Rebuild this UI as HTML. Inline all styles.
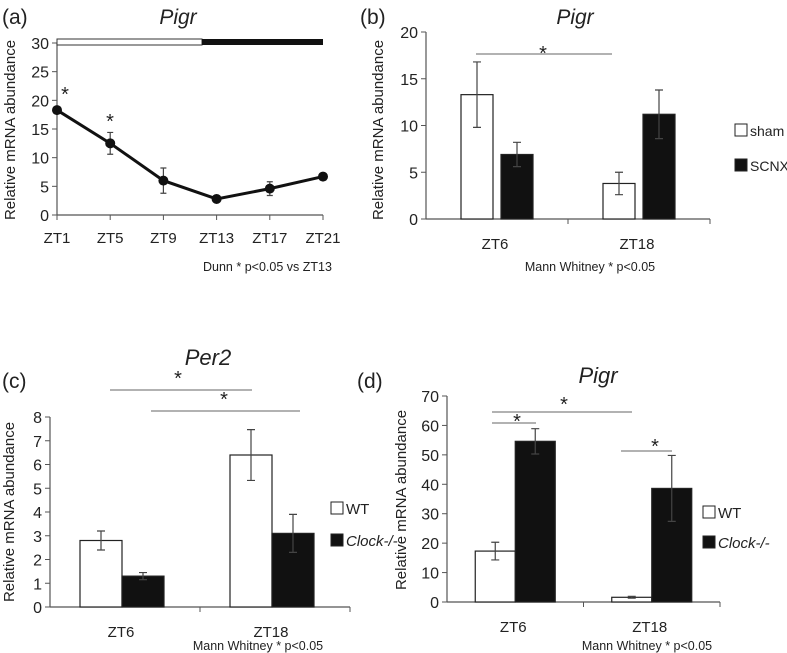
<!DOCTYPE html>
<html><head><meta charset="utf-8"><style>
body{margin:0;background:#fff}
svg{display:block;font-family:"Liberation Sans",Arial,sans-serif}
text{fill:#222}
</style></head><body>
<svg id="fig" width="787" height="653" viewBox="0 0 787 653" xmlns="http://www.w3.org/2000/svg"></svg>
<script>
// Panel a
const aCats=["ZT1","ZT5","ZT9","ZT13","ZT17","ZT21"];
const aVals=[18.3,12.5,6.0,2.8,4.6,6.7];
const aErr=[0.3,1.9,2.2,0.3,1.2,0.6];
const aTicks=[0,5,10,15,20,25,30];
// Panel b
const bCats=["ZT6","ZT18"];
const bSham=[13.3,3.8];
const bShamErr=[3.5,1.2];
const bScnx=[6.9,11.2];
const bScnxErr=[1.3,2.6];
const bTicks=[0,5,10,15,20];
// Panel c
const cCats=["ZT6","ZT18"];
const cWT=[2.8,6.4];
const cWTErr=[0.4,1.07];
const cKO=[1.3,3.1];
const cKOErr=[0.15,0.8];
const cTicks=[0,1,2,3,4,5,6,7,8];
// Panel d
const dCats=["ZT6","ZT18"];
const dWT=[17.3,1.6];
const dWTErr=[3.0,0.3];
const dKO=[54.6,38.6];
const dKOErr=[4.3,11.2];
const dTicks=[0,10,20,30,40,50,60,70];

const svg=document.getElementById('fig');
const NS="http://www.w3.org/2000/svg";
function el(tag,attrs,parent,txt){const e=document.createElementNS(NS,tag);for(const k in attrs)e.setAttribute(k,attrs[k]);if(txt!==undefined)e.textContent=txt;(parent||svg).appendChild(e);return e;}
function grp(name){const g=el('g',{});


return g;}
function txt(g,x,y,s,size,name,extra){const t=el('text',Object.assign({x:x,y:y,'font-size':size},extra||{}),g,s);


return t;}
function errbar(g,x,top,bot,w,name){const e=el('path',{d:`M${x},${top}V${bot}M${x-w},${top}H${x+w}M${x-w},${bot}H${x+w}`,stroke:'#444','stroke-width':1.2,fill:'none'},g);

}
function yaxis(g,x0,y0,yTop,vmax,ticks,x1){
 const sy=v=>y0-(v/vmax)*(y0-yTop);
 el('line',{x1:x0,y1:sy(vmax),x2:x0,y2:y0,stroke:'#555','stroke-width':1.2},g);
 el('line',{x1:x0,y1:y0,x2:x1,y2:y0,stroke:'#555','stroke-width':1.2},g);
 ticks.forEach(t=>{el('line',{x1:x0-5,y1:sy(t),x2:x0,y2:sy(t),stroke:'#555'},g);
  txt(g,x0-8,sy(t)+6,String(t),16,'y-tick-label',{'text-anchor':'end'});});
 return sy;}
function sig(g,x1,x2,y,ax,ay){el('line',{x1:x1,y1:y,x2:x2,y2:y,stroke:'#666','stroke-width':1},g);
 txt(g,ax,ay,'*',20,'significance-star',{'text-anchor':'middle'});}

// ---- Panel a ----
(function(){
 const g=grp('panel-a');
 txt(g,2,24,'(a)',21,'panel-label');
 txt(g,178,24,'Pigr',21,'chart-title',{'text-anchor':'middle','font-style':'italic'});
 const x0=57,x1=323,y0=215,yT=43;
 const sy=yaxis(g,x0,y0,yT,30,aTicks,x1);
 const sx=i=>x0+i*(x1-x0)/(aCats.length-1);
 el('rect',{x:x0,y:39,width:202-x0,height:6,fill:'#fff',stroke:'#333','stroke-width':1},g);
 el('rect',{x:202,y:39,width:x1-202,height:6,fill:'#111'},g);
 aCats.forEach((c,i)=>{el('line',{x1:sx(i),y1:y0,x2:sx(i),y2:y0+5,stroke:'#555'},g);
  txt(g,sx(i),243,c,15,'x-tick-label',{'text-anchor':'middle'});});
 const pts=aVals.map((v,i)=>sx(i)+','+sy(v)).join(' ');
 const pl=el('polyline',{points:pts,fill:'none',stroke:'#111','stroke-width':3},g);
 
 
 aVals.forEach((v,i)=>{errbar(g,sx(i),sy(v+aErr[i]),sy(v-aErr[i]),3,'error-bar');
  const c=el('circle',{cx:sx(i),cy:sy(v),r:5,fill:'#111'},g);
  
  });
 txt(g,65,101,'*',20,'significance-star',{'text-anchor':'middle'});
 txt(g,110,128,'*',20,'significance-star',{'text-anchor':'middle'});
 txt(g,203,271,'Dunn * p<0.05 vs ZT13',12.5,'stat-note');
 txt(g,0,0,'Relative mRNA abundance',15,'y-axis-title',{transform:'translate(15,130) rotate(-90)','text-anchor':'middle'});
})();

function barPanel(o){
 const g=grp(o.name);
 const sy=yaxis(g,o.x0,o.y0,o.yT,o.vmax,o.ticks,o.x1);
 const n=o.cats.length, w=(o.x1-o.x0)/n;
 for(let i=1;i<n;i++)el('line',{x1:o.x0+i*w,y1:o.y0,x2:o.x0+i*w,y2:o.y0+5,stroke:'#555'},g);
 el('line',{x1:o.x1,y1:o.y0,x2:o.x1,y2:o.y0+5,stroke:'#555'},g);
 const gap=o.gap||0;
 o.cats.forEach((c,i)=>{
  const cx=o.x0+w*(i+0.5);
  [[o.s1,o.e1,'#fff',-1],[o.s2,o.e2,'#111',0]].forEach(([s,e,f,off],k)=>{
   const bx=cx+off*o.bw+o.shift+(k?gap/2:-gap/2); const v=s[i];
   const r=el('rect',{x:bx,y:sy(v),width:o.bw,height:o.y0-sy(v),fill:f,stroke:'#222','stroke-width':1.2},g);
   
   
   errbar(g,bx+o.bw/2,sy(v+e[i]),sy(v-e[i]),4,'error-bar');
  });
  txt(g,cx+o.labShift,o.y0+30,c,15,'x-tick-label',{'text-anchor':'middle'});
 });
 return {g,sy};
}
function legend(g,x,y1,y2,l1,l2,it,fs){
 [[y1,'#fff',l1,false],[y2,'#111',l2,it]].forEach(([y,f,l,i])=>{
  const r=el('rect',{x:x,y:y-6,width:12,height:12,fill:f,stroke:'#222'},g);
  
  
  txt(g,x+15,y+6,l,fs||15,'legend-entry',i?{'font-style':'italic'}:{});
 });
}

// ---- Panel b ----
(function(){
 const {g}=barPanel({name:'panel-b',x0:426,x1:710,y0:219,yT:32,vmax:20,ticks:bTicks,cats:bCats,s1:bSham,e1:bShamErr,s2:bScnx,e2:bScnxErr,bw:32,shift:0,gap:8,labShift:-2,l1n:'sham',l2n:'scnx'});
 txt(g,360,24,'(b)',21,'panel-label');
 txt(g,575,24,'Pigr',21,'chart-title',{'text-anchor':'middle','font-style':'italic'});
 sig(g,476,612,54,543,60);
 legend(g,735,130,165,'sham','SCNX',false,14);
 txt(g,590,271,'Mann Whitney * p<0.05',12.5,'stat-note',{'text-anchor':'middle'});
 txt(g,0,0,'Relative mRNA abundance',15,'y-axis-title',{transform:'translate(383,130) rotate(-90)','text-anchor':'middle'});
})();

// ---- Panel c ----
(function(){
 const {g}=barPanel({name:'panel-c',x0:50,x1:350,y0:607,yT:417,vmax:8,ticks:cTicks,cats:cCats,s1:cWT,e1:cWTErr,s2:cKO,e2:cKOErr,bw:42,shift:-3,labShift:-4,l1n:'wt',l2n:'clock'});
 txt(g,2,388,'(c)',21,'panel-label');
 txt(g,208,365,'Per2',22,'chart-title',{'text-anchor':'middle','font-style':'italic'});
 sig(g,110,252,390,178,385);
 sig(g,151,300,411,224,406);
 legend(g,331,508,540,'WT','Clock-/-',true);
 txt(g,258,650,'Mann Whitney * p<0.05',12.5,'stat-note',{'text-anchor':'middle'});
 txt(g,0,0,'Relative mRNA abundance',15,'y-axis-title',{transform:'translate(14,512) rotate(-90)','text-anchor':'middle'});
})();

// ---- Panel d ----
(function(){
 const {g}=barPanel({name:'panel-d',x0:447,x1:720,y0:602,yT:396,vmax:70,ticks:dTicks,cats:dCats,s1:dWT,e1:dWTErr,s2:dKO,e2:dKOErr,bw:40,shift:0,labShift:-2,l1n:'wt',l2n:'clock'});
 txt(g,357,388,'(d)',21,'panel-label');
 txt(g,598,383,'Pigr',22,'chart-title',{'text-anchor':'middle','font-style':'italic'});
 sig(g,492,632,412,564,411);
 sig(g,492,536,423,517,428);
 sig(g,621,672,451,655,453);
 legend(g,703,512,542,'WT','Clock-/-',true);
 txt(g,647,650,'Mann Whitney * p<0.05',12.5,'stat-note',{'text-anchor':'middle'});
 txt(g,0,0,'Relative mRNA abundance',15,'y-axis-title',{transform:'translate(406,500) rotate(-90)','text-anchor':'middle'});
})();
</script>
</body></html>
